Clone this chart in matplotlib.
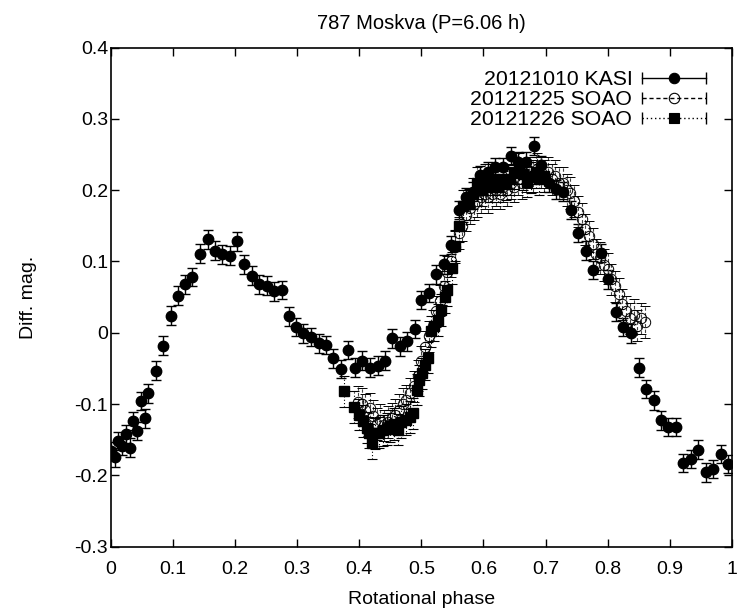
"""
Lightcurve of 787 Moskva folded with P=6.06 h.

Three nights: 20121010 (KASI), 20121225 and 20121226 (SOAO).
Values read off the published figure.
"""

import numpy as np
import matplotlib.pyplot as plt
from matplotlib.lines import Line2D
from matplotlib.legend_handler import HandlerLine2D, HandlerTuple

plt.rcParams['font.family'] = ['Liberation Sans', 'DejaVu Sans']
plt.rcParams['axes.unicode_minus'] = False

# 20121010 KASI
kasi_phase = [0.000, 0.006, 0.012, 0.018, 0.024, 0.031, 0.036, 0.042, 0.048,
              0.054, 0.060, 0.072, 0.084, 0.096, 0.108, 0.120, 0.131, 0.144,
              0.156, 0.167, 0.179, 0.191, 0.203, 0.215, 0.227, 0.239, 0.251,
              0.263, 0.275, 0.287, 0.298, 0.310, 0.322, 0.335, 0.346, 0.358,
              0.370, 0.382, 0.393, 0.405, 0.417, 0.430, 0.441, 0.453, 0.465,
              0.477, 0.489, 0.500, 0.512, 0.524, 0.536, 0.548, 0.560, 0.572,
              0.583, 0.595, 0.607, 0.619, 0.631, 0.644, 0.656, 0.668, 0.681,
              0.693, 0.705, 0.717, 0.728, 0.741, 0.753, 0.765, 0.777, 0.789,
              0.801, 0.813, 0.825, 0.838, 0.850, 0.862, 0.874, 0.886, 0.898,
              0.910, 0.922, 0.934, 0.946, 0.958, 0.970, 0.982, 0.994]
kasi_mag = [-0.166, -0.175, -0.152, -0.159, -0.142, -0.161, -0.124, -0.138,
            -0.096, -0.120, -0.085, -0.053, -0.018, 0.024, 0.052, 0.068,
            0.078, 0.111, 0.131, 0.115, 0.110, 0.108, 0.128, 0.096, 0.080,
            0.068, 0.066, 0.058, 0.060, 0.023, 0.008, -0.001, -0.006, -0.015,
            -0.017, -0.036, -0.051, -0.024, -0.049, -0.039, -0.049, -0.046,
            -0.039, -0.008, -0.019, -0.012, 0.005, 0.046, 0.056, 0.082, 0.096,
            0.123, 0.172, 0.190, 0.198, 0.221, 0.226, 0.232, 0.232, 0.248,
            0.240, 0.240, 0.262, 0.235, 0.210, 0.201, 0.198, 0.172, 0.140,
            0.115, 0.088, 0.112, 0.075, 0.029, 0.008, -0.001, -0.049, -0.079,
            -0.095, -0.123, -0.132, -0.132, -0.183, -0.177, -0.164, -0.196,
            -0.191, -0.170, -0.184]
kasi_err = 0.013

# 20121225 SOAO
s25_phase = [0.398, 0.404, 0.410, 0.417, 0.422, 0.428, 0.434, 0.440, 0.446,
             0.452, 0.458, 0.464, 0.470, 0.476, 0.482, 0.488, 0.494, 0.500,
             0.506, 0.512, 0.518, 0.524, 0.530, 0.536, 0.542, 0.548, 0.554,
             0.560, 0.566, 0.572, 0.578, 0.584, 0.590, 0.596, 0.602, 0.608,
             0.614, 0.620, 0.626, 0.632, 0.638, 0.644, 0.650, 0.656, 0.662,
             0.668, 0.674, 0.680, 0.686, 0.692, 0.698, 0.704, 0.710, 0.716,
             0.722, 0.728, 0.734, 0.740, 0.746, 0.752, 0.758, 0.764, 0.770,
             0.776, 0.782, 0.788, 0.794, 0.800, 0.806, 0.812, 0.818, 0.824,
             0.830, 0.836, 0.842, 0.848, 0.854, 0.860]
s25_mag = [-0.097, -0.100, -0.108, -0.106, -0.117, -0.128, -0.122, -0.130,
           -0.125, -0.120, -0.115, -0.108, -0.100, -0.095, -0.085, -0.075,
           -0.060, -0.040, -0.020, -0.005, 0.010, 0.030, 0.045, 0.065, 0.085,
           0.100, 0.120, 0.140, 0.150, 0.165, 0.175, 0.180, 0.185, 0.190,
           0.195, 0.190, 0.195, 0.200, 0.195, 0.205, 0.200, 0.210, 0.205,
           0.215, 0.210, 0.220, 0.225, 0.220, 0.230, 0.225, 0.220, 0.225,
           0.215, 0.220, 0.210, 0.210, 0.200, 0.196, 0.185, 0.170, 0.160,
           0.145, 0.135, 0.125, 0.110, 0.105, 0.095, 0.090, 0.075, 0.065,
           0.055, 0.040, 0.030, 0.020, 0.025, 0.010, 0.020, 0.015]
s25_err = 0.022

# 20121226 SOAO
s26_phase = [0.375, 0.392, 0.399, 0.406, 0.412, 0.415, 0.420, 0.426, 0.432,
             0.438, 0.444, 0.450, 0.456, 0.462, 0.468, 0.475, 0.481, 0.487,
             0.493, 0.497, 0.501, 0.506, 0.510, 0.516, 0.521, 0.527, 0.532,
             0.538, 0.541, 0.549, 0.554, 0.560, 0.567, 0.576, 0.583, 0.590,
             0.597, 0.603, 0.610, 0.617, 0.624, 0.630, 0.637, 0.643, 0.650,
             0.657, 0.664, 0.670, 0.677, 0.684, 0.690, 0.697]
s26_mag = [-0.082, -0.104, -0.115, -0.124, -0.133, -0.140, -0.155, -0.141,
           -0.140, -0.137, -0.135, -0.131, -0.128, -0.136, -0.125, -0.122,
           -0.118, -0.113, -0.080, -0.067, -0.057, -0.045, -0.035, 0.002,
           0.010, 0.018, 0.032, 0.050, 0.060, 0.091, 0.122, 0.149, 0.178,
           0.180, 0.195, 0.210, 0.200, 0.215, 0.205, 0.215, 0.205, 0.215,
           0.208, 0.215, 0.224, 0.230, 0.222, 0.212, 0.218, 0.225, 0.215,
           0.220]
s26_err = 0.022

xtick_vals = [0, 0.1, 0.2, 0.3, 0.4, 0.5, 0.6, 0.7, 0.8, 0.9, 1]
xtick_labels = ['0', '0.1', '0.2', '0.3', '0.4', '0.5', '0.6', '0.7', '0.8',
                '0.9', '1']
ytick_vals = [-0.3, -0.2, -0.1, 0, 0.1, 0.2, 0.3, 0.4]
ytick_labels = ['-0.3', '-0.2', '-0.1', '0', '0.1', '0.2', '0.3', '0.4']

fig = plt.figure(figsize=(7.38, 6.15), dpi=100)
ax = fig.add_axes([0.1504, 0.1112, 0.8411, 0.8115])

# KASI night, solid error bars
ax.errorbar(kasi_phase, kasi_mag, yerr=kasi_err, fmt='o', color='black',
            ms=7.5, elinewidth=1, capsize=3.6, capthick=1)

# SOAO nights, dashed / dotted error bars
eb25 = ax.errorbar(s25_phase, s25_mag, yerr=s25_err, fmt='o', color='black',
                   mfc='none', ms=7.5, mew=0.7, elinewidth=0.8, capsize=3.6,
                   capthick=0.8)
eb25[2][0].set_linestyle((0, (3, 2)))
eb25[2][0].set_color('#444444')
eb26 = ax.errorbar(s26_phase, s26_mag, yerr=s26_err, fmt='s', color='black',
                   ms=7.5, elinewidth=0.8, capsize=3.6, capthick=0.8)
eb26[2][0].set_linestyle((0, (1, 2)))

ax.set_xlim(0, 1)
ax.set_ylim(-0.3, 0.4)
ax.set_xticks(xtick_vals)
ax.set_xticklabels(xtick_labels)
ax.set_yticks(ytick_vals)
ax.set_yticklabels(ytick_labels)
ax.tick_params(direction='in', length=6, width=1, top=True, right=True,
               labelsize=14)
ax.tick_params(axis='x', pad=10)
ax.tick_params(axis='y', pad=2)
for sp in ax.spines.values():
    sp.set_linewidth(1.2)

ax.set_xlabel("Rotational phase", fontsize=14, labelpad=10)
ax.set_ylabel("Diff. mag.", fontsize=14, labelpad=27)
ax.set_title("787 Moskva (P=6.06 h)", fontsize=14.5, pad=13)

# gnuplot style key: label on the left, |--o--| sample on the right
handles = []
key_map = {}
for mk, mfc, ls in [('o', 'black', '-'), ('o', 'none', (0, (3, 2))),
                    ('s', 'black', (0, (1, 2)))]:
    body = Line2D([], [], color='black', marker=mk, mfc=mfc, ms=7.5,
                  mew=0.8, ls=ls, lw=1)
    caps = Line2D([], [], color='black', marker='|', ms=9, ls='none')
    key_map[caps] = HandlerLine2D(numpoints=2, marker_pad=0)
    handles.append((body, caps))
key_map[tuple] = HandlerTuple(ndivide=1, pad=0)
ax.legend(handles, ['20121010 KASI', '20121225 SOAO', '20121226 SOAO'],
          handler_map=key_map, loc='upper right', frameon=False,
          markerfirst=False, fontsize=15.3, handlelength=3.0,
          handletextpad=0.45, labelspacing=0.05, borderpad=0,
          borderaxespad=0, bbox_to_anchor=(0.958, 0.955))

fig.savefig("out.png", dpi=100)
